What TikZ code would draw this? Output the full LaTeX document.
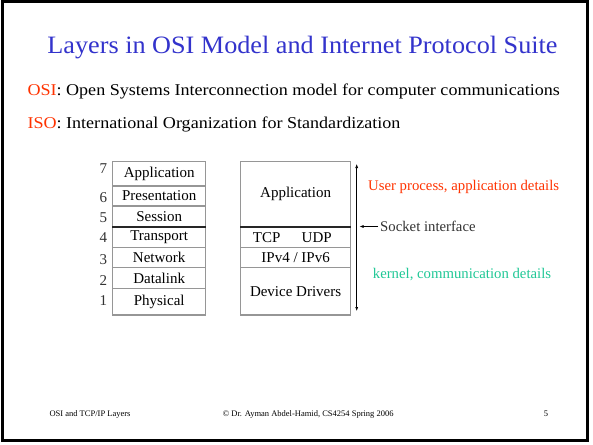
\documentclass[tikz,border=0pt]{standalone}
\usepackage{fontspec}
\setmainfont{Liberation Serif}
\newfontfamily\titlefont[FakeStretch=1.048]{Liberation Serif}
\newfontfamily\deffont[FakeStretch=1.095]{Liberation Serif}
\usetikzlibrary{arrows.meta}
\definecolor{titleblue}{RGB}{51,51,204}
\definecolor{osired}{RGB}{255,51,0}
\definecolor{kgreen}{RGB}{32,200,150}
\definecolor{boxgray}{RGB}{150,150,150}
\tikzset{
  cell/.style={draw=boxgray, line width=1.1pt, inner sep=0pt, font=\fontsize{15}{17}\selectfont},
  plain/.style={inner sep=0pt, font=\fontsize{15}{17}\selectfont},
  side/.style={inner sep=0pt, font=\fontsize{14.75}{17}\selectfont},
  numlab/.style={inner sep=0pt, font=\fontsize{15}{17}\selectfont, text=black!80},
  sep/.style={line width=2pt, black!85},
  tip/.style={-{Latex[length=4pt,width=3pt]}, line width=0.6pt},
  foot/.style={inner sep=0pt, font=\fontsize{8.5}{10}\selectfont}
}
\begin{document}
\begin{tikzpicture}[x=1pt,y=-1pt]
\useasboundingbox (0,0) rectangle (593,444);
\fill[white] (0,0) rectangle (593,444);
\draw[line width=3pt] (2,2) rectangle (587.5,440);
% title and definitions
\node[anchor=base, inner sep=0pt, text=titleblue, font=\titlefont\fontsize{25}{29}\selectfont] (title) at (302.5,53) {Layers in OSI Model and Internet Protocol Suite};
\node[anchor=base west, inner sep=0pt, font=\deffont\fontsize{16.5}{19}\selectfont] (osi) at (27.3,95) {\textcolor{osired}{OSI}: Open Systems Interconnection model for computer communications};
\node[anchor=base west, inner sep=0pt, font=\deffont\fontsize{16.5}{19}\selectfont] (iso) at (27.3,128) {\textcolor{osired}{ISO}: International Organization for Standardization};
% OSI stack
\node[cell, minimum width=93pt, minimum height=24.3pt] (l7) at (159.2,173.85) {Application};
\node[cell, minimum width=93pt, minimum height=20pt] (l6) at (159.2,196) {Presentation};
\node[cell, minimum width=93pt, minimum height=20.7pt] (l5) at (159.2,216.35) {Session};
\node[cell, minimum width=93pt, minimum height=20.6pt] (l4) at (159.2,237) {Transport};
\node[cell, minimum width=93pt, minimum height=20.4pt] (l3) at (159.2,257.5) {Network};
\node[cell, minimum width=93pt, minimum height=20.6pt] (l2) at (159.2,278) {Datalink};
\node[cell, minimum width=93pt, minimum height=26.7pt] (l1) at (159.2,301.65) {Physical};
\draw[sep] (l5.south west) -- (l5.south east);
\node[numlab] (n7) at (103.3,169) {7};
\node[numlab] (n6) at (103.3,197.7) {6};
\node[numlab] (n5) at (103.3,217.7) {5};
\node[numlab] (n4) at (103.3,237.5) {4};
\node[numlab] (n3) at (103.3,260) {3};
\node[numlab] (n2) at (103.3,280.5) {2};
\node[numlab] (n1) at (103.3,300.5) {1};
% Internet stack
\node[cell, minimum width=110pt, minimum height=65pt] (iapp) at (295.6,194.2) {Application};
\node[cell, minimum width=110pt, minimum height=20.6pt] (itr) at (295.6,237) {};
\node[plain] (tcp) at (266.7,237.3) {TCP};
\node[plain] (udp) at (316.7,237.3) {UDP};
\node[cell, minimum width=110pt, minimum height=20.4pt] (iip) at (295.6,257.5) {IPv4 / IPv6};
\node[cell, minimum width=110pt, minimum height=47.3pt] (idd) at (295.6,291.35) {Device Drivers};
\draw[sep] (iapp.south west) -- (iapp.south east);
% arrows
\coordinate (atop) at (356.7,164);
\coordinate (abot) at (356.7,311);
\draw[{Latex[length=4pt,width=3pt]}-{Latex[length=4pt,width=3pt]}, line width=0.6pt] (atop) -- (abot);
\node[anchor=west, side, text=black!80] (sock) at (380,226.5) {Socket interface};
\coordinate (sockend) at (359.5,226.5);
\draw[tip] ([xshift=-2pt]sock.west) -- (sockend);
\node[anchor=west, side, text=osired] (user) at (368,186.7) {User process, application details};
\node[anchor=west, side, text=kgreen] (kern) at (372.7,275) {kernel, communication details};
% footer
\node[anchor=base west, foot] (f1) at (49.3,416) {OSI and TCP/IP Layers};
\node[anchor=base west, foot] (f2) at (222.7,416) {© Dr. Ayman Abdel-Hamid, CS4254 Spring 2006};
\node[anchor=base, foot] (f3) at (546,416) {5};
\end{tikzpicture}
\end{document}
